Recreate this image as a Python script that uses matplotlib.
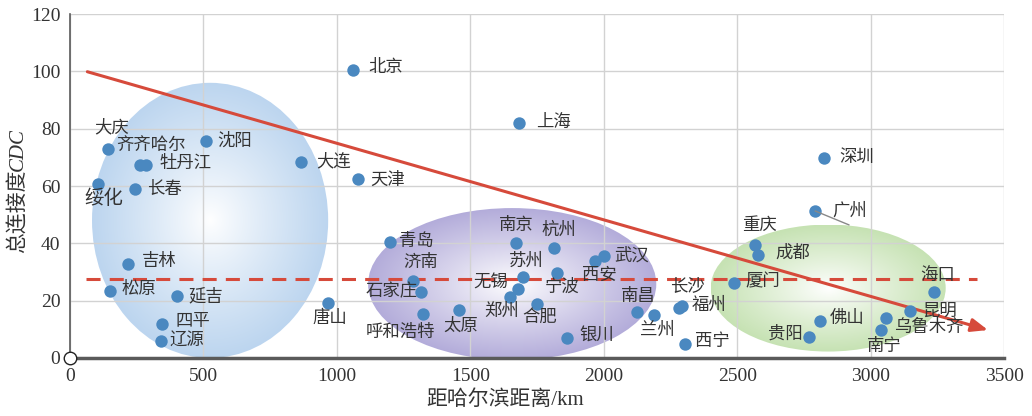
import numpy as np
import matplotlib
matplotlib.use("Agg")
import matplotlib.pyplot as plt
from matplotlib.patches import Ellipse
from matplotlib.colors import to_rgb

plt.rcParams['font.family'] = ['Liberation Serif', 'Noto Sans CJK SC']

cities = ['北京', '上海', '天津', '大连', '沈阳', '大庆', '齐齐哈尔', '牡丹江', '绥化',
          '长春', '吉林', '松原', '延吉', '四平', '辽源', '唐山', '青岛', '济南', '石家庄',
          '呼和浩特', '太原', '南京', '杭州', '苏州', '无锡', '郑州', '宁波', '合肥', '银川',
          '西安', '武汉', '南昌', '兰州', '长沙', '福州', '西宁', '厦门', '重庆', '成都',
          '深圳', '广州', '海口', '昆明', '乌鲁木齐', '南宁', '佛山', '贵阳']
distance = [1060, 1684, 1078, 867, 510, 141, 262, 283, 104,
            244, 219, 150, 400, 344, 341, 968, 1199, 1287, 1316,
            1322, 1458, 1670, 1815, 1696, 1680, 1647, 1825, 1750, 1862,
            1968, 2000, 2124, 2188, 2283, 2292, 2303, 2489, 2568, 2580,
            2824, 2792, 3236, 3148, 3058, 3039, 2809, 2768]
cdc = [100.5, 82.1, 62.3, 68.2, 75.6, 73.0, 67.3, 67.3, 60.8,
       58.9, 32.8, 23.2, 21.7, 11.9, 6.0, 19.1, 40.3, 26.9, 23.0,
       15.4, 16.8, 40.0, 38.2, 28.4, 24.0, 21.4, 29.8, 19.0, 7.1,
       33.7, 35.6, 15.9, 15.0, 17.6, 18.2, 4.8, 26.2, 39.4, 36.0,
       69.9, 51.3, 22.9, 16.4, 13.8, 9.8, 13.0, 7.2]

# label placement (pixels from the point, label centred there)
label_offset = {
    '北京': (33, 2), '上海': (34, 0), '天津': (30, -1), '大连': (32, 0), '沈阳': (29, 0),
    '大庆': (4, 21), '齐齐哈尔': (11, 19), '牡丹江': (40, 1), '绥化': (6, -15),
    '长春': (29, -1), '吉林': (31, 2), '松原': (29, 1), '延吉': (29, -1), '四平': (31, 2),
    '辽源': (26, -1), '唐山': (1, -16), '青岛': (26, 0), '济南': (7, 18), '石家庄': (-30, 0),
    '呼和浩特': (-22, -19), '太原': (2, -17), '南京': (1, 17), '杭州': (4, 18), '苏州': (4, 15),
    '无锡': (-28, 6), '郑州': (-8, -15), '宁波': (5, -15), '合肥': (3, -14), '银川': (30, 1),
    '西安': (4, -15), '武汉': (28, 0), '南昌': (1, 15), '兰州': (3, -16), '长沙': (8, 20),
    '福州': (27, 0), '西宁': (28, 2), '厦门': (29, 1), '重庆': (4, 19), '成都': (34, 1),
    '深圳': (33, 0), '广州': (35, 0), '海口': (4, 15), '昆明': (29, -1), '乌鲁木齐': (43, -9),
    '南宁': (3, -17), '佛山': (28, 2), '贵阳': (-23, 3),
}

# regional groups: centre, width, height (data units) and rim colour
groups_center = [(525, 48), (1657, 25.8), (2841, 24.4)]
groups_size = [(885, 96), (1080, 53), (881, 44.3)]
groups_color = ['#bcd5ef', '#b3acda', '#c6e2b3']

mean_cdc = 27.5
trend_intercept = 101.6
trend_slope = -0.0267
trend_x = [65, 3440]

red = '#d64a3b'
blue = '#4a88c0'
txt = '#333333'

fig = plt.figure(figsize=(10.32, 4.16), dpi=100)
ax = fig.add_axes([70 / 1032, 1 - 358 / 416, 934 / 1032, 344 / 416])


def gradient_ellipse(ax, center, size, edge):
    cx, cy = center
    w, h = size
    g = np.linspace(-1, 1, 400)
    X, Y = np.meshgrid(g, g)
    r = np.clip(np.hypot(X, Y), 0, 1) ** 0.9
    c0 = np.array([1.0, 1.0, 1.0])
    c1 = np.array(to_rgb(edge))
    img = c0 + (c1 - c0) * r[..., None]
    im = ax.imshow(img, extent=(cx - w / 2, cx + w / 2, cy - h / 2, cy + h / 2),
                   origin='lower', aspect='auto', zorder=0, interpolation='bilinear')
    e = Ellipse((cx, cy), w, h, facecolor='none', edgecolor='none')
    ax.add_patch(e)
    im.set_clip_path(e)


for c, s, col in zip(groups_center, groups_size, groups_color):
    gradient_ellipse(ax, c, s, col)

ax.set_xlim(0, 3500)
ax.set_ylim(0, 120)
ax.set_xticks(np.arange(0, 3501, 500))
ax.set_yticks(np.arange(0, 121, 20))
ax.set_axisbelow(True)
ax.grid(True, color='#d2d2d2', lw=1)
for side in ['top', 'right']:
    ax.spines[side].set_visible(False)
ax.spines['left'].set_color('#5a5a5a')
ax.spines['left'].set_linewidth(1.2)
ax.spines['bottom'].set_color('#5a5a5a')
ax.spines['bottom'].set_linewidth(2.5)
ax.tick_params(length=0, labelsize=14, labelcolor=txt, pad=7)

# mean line and fitted trend
ax.plot([60, 3400], [mean_cdc, mean_cdc], color=red, lw=2.2, dashes=(4.6, 3), zorder=2)
ty = [trend_intercept + trend_slope * x for x in trend_x]
ax.annotate('', xy=(trend_x[1], ty[1]), xytext=(trend_x[0], ty[0]),
            arrowprops=dict(arrowstyle='-|>,head_length=1.0,head_width=0.4',
                            color=red, lw=2.2, shrinkA=0, shrinkB=0), zorder=2)

ax.scatter(distance, cdc, s=80, color=blue, linewidths=0, zorder=3)

for name, x, y in zip(cities, distance, cdc):
    dx, dy = label_offset[name]
    ax.annotate(name, (x, y), xytext=(dx, dy), textcoords='offset pixels',
                ha='center', va='center', color=txt,
                fontsize=14 if name == '绥化' else 12.5, zorder=4)

gz = cities.index('广州')
ax.annotate('', (distance[gz], cdc[gz]), xytext=(34, -14), textcoords='offset pixels',
            arrowprops=dict(arrowstyle='-', color='#888888', lw=1, shrinkA=0, shrinkB=0))

ax.plot(0, 0, 'o', mfc='white', mec='#222222', ms=9, mew=1, clip_on=False, zorder=5)

fig.text(505 / 1032, 1 - 400 / 416, '距哈尔滨距离/km', ha='center', va='center',
         fontsize=15, color=txt)
# y label: Chinese part plus italic CDC
fig.text(18 / 1032, 1 - 211 / 416, '总连接度', ha='center', va='center',
         rotation=90, fontsize=15, color=txt, family='Noto Sans CJK SC')
fig.text(18 / 1032, 1 - 150 / 416, 'CDC', ha='center', va='center',
         rotation=90, fontsize=15, color=txt, family='Liberation Serif', style='italic')

fig.savefig('out.png', dpi=100)
